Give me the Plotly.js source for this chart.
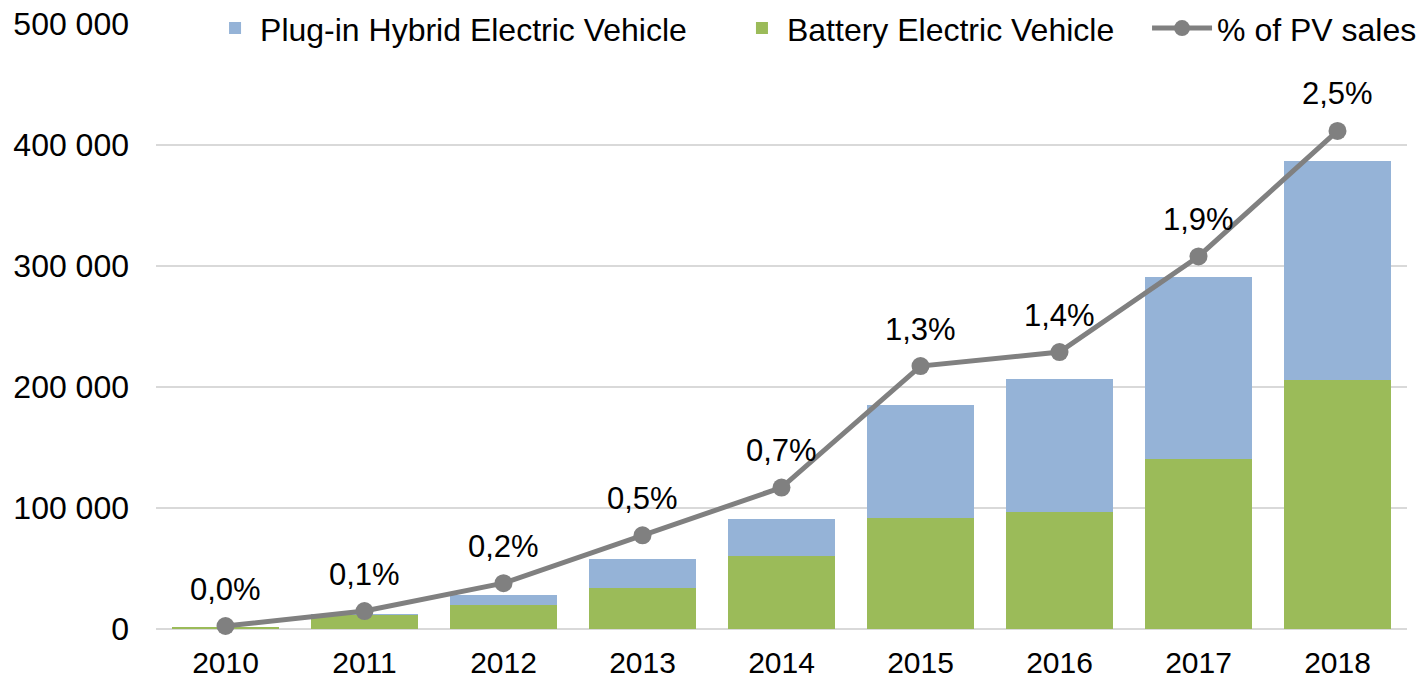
<!DOCTYPE html>
<html>
<head>
<meta charset="utf-8">
<script src="https://cdn.plot.ly/plotly-3.0.1.min.js"></script>
<style>
  html, body { margin: 0; padding: 0; background: #fff; }
  #plot { width: 1419px; height: 679px; }
</style>
</head>
<body>
<div id="plot"></div>
<script>
// years on the x axis
var years = ["2010", "2011", "2012", "2013", "2014", "2015", "2016", "2017", "2018"];

// sales
var bevSales = [1500, 11600, 19800, 33900, 60300, 91700, 96700, 140500, 205800];
var phevSales = [300, 400, 8200, 24000, 30600, 93300, 110300, 150500, 181000];

// share of passenger vehicle sales (%), marker heights and printed labels
var pvShare = [0.015, 0.09, 0.23, 0.47, 0.71, 1.32, 1.39, 1.87, 2.5];
var pvLabels = ["0,0%", "0,1%", "0,2%", "0,5%", "0,7%", "1,3%", "1,4%", "1,9%", "2,5%"];

var fam = "Liberation Sans, Arial, sans-serif";
var font = {family: fam, size: 32, color: "#000"};
var labelFont = {family: fam, size: 31, color: "#000"};
var xFont = {family: fam, size: 30, color: "#000"};

var bev = {
    x: years,
    y: bevSales,
    type: "bar",
    name: "Battery Electric Vehicle",
    marker: {color: "#9BBB59"},
    legend: "legend2"
};

var phev = {
    x: years,
    y: phevSales,
    type: "bar",
    name: "Plug-in Hybrid Electric Vehicle",
    marker: {color: "#95B3D7"},
    legend: "legend"
};

var share = {
    x: years,
    y: pvShare,
    type: "scatter",
    mode: "lines+markers",
    name: "% of PV sales",
    yaxis: "y2",
    line: {color: "#808080", width: 5},
    marker: {color: "#808080", size: 18},
    cliponaxis: false,
    legend: "legend3"
};

var data = [bev, phev, share];

// percentage labels sit above each point (x is the category index)
var labels = pvLabels.map(function (txt, i) {
    return {
        x: i,
        y: pvShare[i],
        xref: "x",
        yref: "y2",
        text: txt,
        showarrow: false,
        yanchor: "middle",
        yshift: 37,
        font: labelFont
    };
});

function legendBox(xpos, w) {
    return {
        orientation: "h",
        x: xpos,
        xanchor: "left",
        y: 0.993,
        yanchor: "middle",
        font: font,
        bgcolor: "rgba(0,0,0,0)",
        itemwidth: w
    };
}

var layout = {
    width: 1419,
    height: 679,
    margin: {l: 156, r: 12, t: 24, b: 50, autoexpand: false},
    barmode: "stack",
    bargap: 0.23,
    font: font,
    paper_bgcolor: "#fff",
    plot_bgcolor: "#fff",
    showlegend: true,
    legend: legendBox(0.0432, 40),
    legend2: legendBox(0.4644, 40),
    legend3: legendBox(0.7922, 60),
    annotations: labels,
    xaxis: {
        type: "category",
        categoryarray: years,
        range: [-0.5, years.length - 0.5],
        showline: false,
        ticks: "",
        tickfont: xFont,
        ticklabelstandoff: 13,
        automargin: false
    },
    yaxis: {
        range: [0, 500000],
        dtick: 100000,
        tickformat: ",",
        showgrid: true,
        gridcolor: "#D9D9D9",
        gridwidth: 1.5,
        zeroline: true,
        zerolinecolor: "#D9D9D9",
        zerolinewidth: 1.5,
        ticks: "",
        ticklabelstandoff: 26,
        tickfont: font,
        automargin: false
    },
    yaxis2: {
        overlaying: "y",
        side: "right",
        range: [0, 3.037],
        visible: false
    },
    separators: ", "
};

Plotly.newPlot("plot", data, layout, {staticPlot: true});
</script>
</body>
</html>
